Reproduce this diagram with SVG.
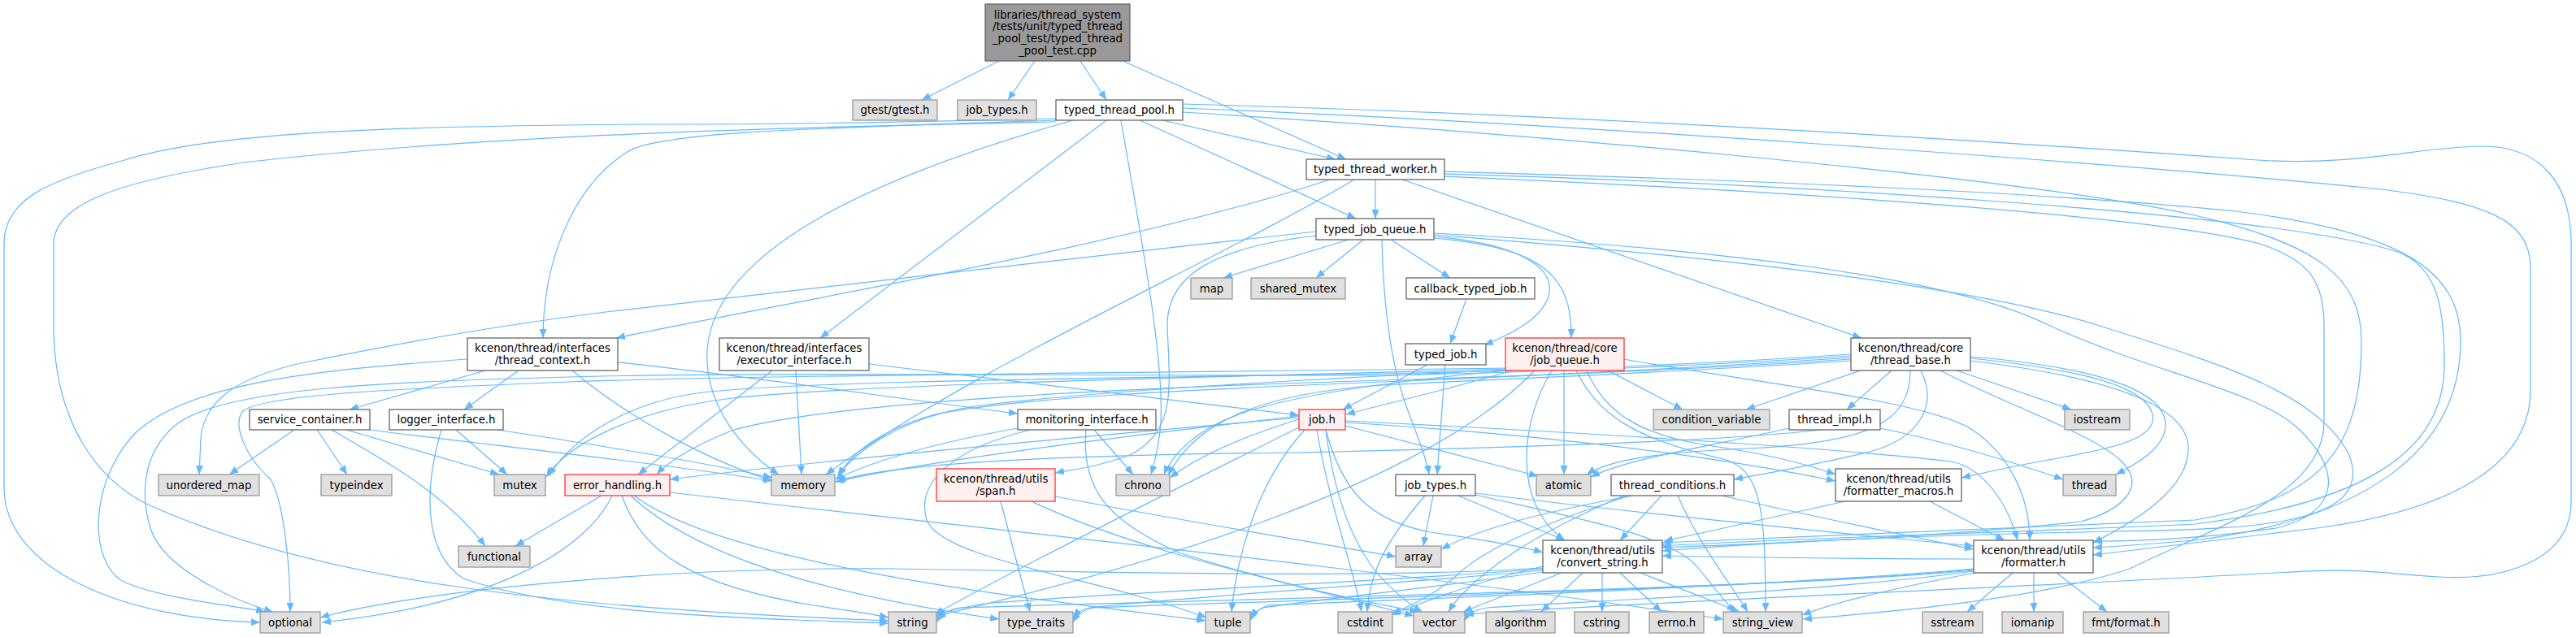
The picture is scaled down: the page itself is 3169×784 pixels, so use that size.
<svg xmlns="http://www.w3.org/2000/svg" width="3169" height="784" viewBox="0 0 3169 784">
<style>
.e{fill:none;stroke:#63b8ff;stroke-width:1.2}
.w rect{fill:#ffffff;stroke:#666666;stroke-width:1.3}
.g rect{fill:#e0e0e0;stroke:#999999;stroke-width:1.3}
.r rect{fill:#fff0f0;stroke:#ff3333;stroke-width:1.3}
.rt rect{fill:#999999;stroke:#666666;stroke-width:1.3}
text{font-family:"DejaVu Sans","Liberation Sans",sans-serif;font-size:13.3px;text-anchor:middle;fill:#000000}
</style>
<defs>
<marker id="a" viewBox="0 0 11 9" refX="11" refY="4.5" markerWidth="11" markerHeight="9" markerUnits="userSpaceOnUse" orient="auto"><path d="M0,0 L11,4.5 L0,9 z" fill="#63b8ff"/></marker>
</defs>
<rect width="3169" height="784" fill="#ffffff"/>
<g id="connectors">
<path class="e" marker-end="url(#a)" d="M1229,75 L1134,123"/>
<path class="e" marker-end="url(#a)" d="M1273,75 L1240,123"/>
<path class="e" marker-end="url(#a)" d="M1329,75 L1361,123"/>
<path class="e" marker-end="url(#a)" d="M1381,75 L1656,196"/>
<path class="e" marker-end="url(#a)" d="M1430,148 L1643,196"/>
<path class="e" marker-end="url(#a)" d="M1402,148 L1668,269"/>
<path class="e" marker-end="url(#a)" d="M1361,148 L1009,416"/>
<path class="e" marker-end="url(#a)" d="M1379,148 C1405,300 1432,440 1428,520 C1426,550 1420,570 1416,584"/>
<path class="e" marker-end="url(#a)" d="M1320,148 C1100,210 880,300 870,430 C866,500 915,555 958,584"/>
<path class="e" marker-end="url(#a)" d="M1299,148 C1000,158 820,162 775,185 C700,230 668,330 668,416"/>
<path class="e" marker-end="url(#a)" d="M1299,146 C1100,151 900,153 800,153 C450,155 250,165 150,198 C60,222 5,245 5,300 L5,600 C5,700 150,762 320,766"/>
<path class="e" marker-end="url(#a)" d="M1299,150 C1000,156 600,165 300,200 C150,222 66,250 66,300 L66,400 C66,520 120,590 180,620 C400,720 700,748 1093,764"/>
<path class="e" marker-end="url(#a)" d="M1455,128 C1900,140 2400,170 2777,197 C2900,205 2980,180 3053,180 C3130,180 3163,230 3163,300 L3163,617 C3163,690 3080,715 3000,710 C2920,705 2900,698 2800,705 C2500,722 2000,742 1802,756"/>
<path class="e" marker-end="url(#a)" d="M1455,133 C1900,150 2600,200 2930,233 C3060,250 3113,270 3113,330 L3113,480 C3113,580 3000,630 2850,650 C2700,668 2620,678 2575,683"/>
<path class="e" marker-end="url(#a)" d="M1455,138 C1900,165 2500,220 2700,265 C2850,300 2905,340 2905,420 C2905,560 2850,615 2700,640 C2450,650 2200,660 2045,668"/>
<path class="e" marker-end="url(#a)" d="M1692,221 L1692,269"/>
<path class="e" marker-end="url(#a)" d="M1636,221 C1400,300 950,375 758,416"/>
<path class="e" marker-end="url(#a)" d="M1666,221 C1500,320 1200,450 1016,584"/>
<path class="e" marker-end="url(#a)" d="M1725,221 L2290,416"/>
<path class="e" marker-end="url(#a)" d="M1777,211 C2100,220 2500,235 2750,260 C2950,285 3027,330 3027,420 C3027,560 2900,640 2700,665 C2640,670 2600,673 2575,674"/>
<path class="e" marker-end="url(#a)" d="M1777,214 C2200,226 2800,262 2950,310 C3000,330 3007,380 3007,450 C3007,560 2900,620 2700,645 C2500,655 2200,662 2045,672"/>
<path class="e" marker-end="url(#a)" d="M1777,217 C2200,235 2650,265 2780,300 C2840,320 2859,345 2859,400 L2859,520 C2859,610 2720,650 2620,700 C2500,740 2300,755 2218,762"/>
<path class="e" marker-end="url(#a)" d="M1659,295 L1505,342"/>
<path class="e" marker-end="url(#a)" d="M1677,295 L1619,342"/>
<path class="e" marker-end="url(#a)" d="M1711,295 L1784,342"/>
<path class="e" marker-end="url(#a)" d="M1700,295 C1702,380 1712,450 1730,500 C1745,540 1755,565 1758,584"/>
<path class="e" marker-end="url(#a)" d="M1764,291 C1870,300 1915,330 1905,365 C1895,395 1855,412 1826,425"/>
<path class="e" marker-end="url(#a)" d="M1764,293 C1900,305 1934,340 1933,416"/>
<path class="e" marker-end="url(#a)" d="M1619,285 C1300,320 950,360 745,384 C600,402 480,425 380,445 C280,465 250,500 247,540 L245,584"/>
<path class="e" marker-end="url(#a)" d="M1619,290 C1490,305 1436,340 1436,400 C1438,470 1450,530 1390,560 C1350,575 1320,578 1298,582"/>
<path class="e" marker-end="url(#a)" d="M1764,287 C2100,305 2400,340 2520,400 C2650,460 2780,480 2830,530 C2880,580 2880,630 2800,650 C2700,664 2620,666 2575,666"/>
<path class="e" marker-end="url(#a)" d="M1764,289 C2100,315 2420,350 2580,400 C2720,445 2850,480 2890,560 C2920,640 2800,652 2600,654 C2400,658 2200,665 2045,678"/>
<path class="e" marker-end="url(#a)" d="M1804,368 L1784,423"/>
<path class="e" marker-end="url(#a)" d="M1756,449 L1652,504"/>
<path class="e" marker-end="url(#a)" d="M1778,449 L1768,584"/>
<path class="e" marker-end="url(#a)" d="M597,456 L430,504"/>
<path class="e" marker-end="url(#a)" d="M638,456 L571,504"/>
<path class="e" marker-end="url(#a)" d="M760,446 C900,460 1100,490 1252,509"/>
<path class="e" marker-end="url(#a)" d="M704,456 C780,520 880,570 949,591"/>
<path class="e" marker-end="url(#a)" d="M575,442 C400,455 220,470 160,540 C110,600 110,690 150,715 C200,738 290,745 326,753"/>
<path class="e" marker-end="url(#a)" d="M362,529 L282,584"/>
<path class="e" marker-end="url(#a)" d="M390,529 L427,584"/>
<path class="e" marker-end="url(#a)" d="M408,529 C470,565 545,605 597,672"/>
<path class="e" marker-end="url(#a)" d="M426,529 L614,584"/>
<path class="e" marker-end="url(#a)" d="M455,529 C600,548 800,568 950,592"/>
<path class="e" marker-end="url(#a)" d="M561,529 L624,584"/>
<path class="e" marker-end="url(#a)" d="M612,529 C750,550 880,572 950,588"/>
<path class="e" marker-end="url(#a)" d="M543,529 C522,600 520,680 570,712 C700,758 950,762 1093,767"/>
<path class="e" marker-end="url(#a)" d="M979,456 L986,584"/>
<path class="e" marker-end="url(#a)" d="M950,456 L785,584"/>
<path class="e" marker-end="url(#a)" d="M1069,448 L1598,511"/>
<path class="e" marker-end="url(#a)" d="M1252,527 C1150,545 1080,565 1027,590"/>
<path class="e" marker-end="url(#a)" d="M1346,529 L1394,584"/>
<path class="e" marker-end="url(#a)" d="M1336,529 C1330,600 1360,640 1450,680 C1600,728 1720,748 1745,753"/>
<path class="e" marker-end="url(#a)" d="M1268,529 C1180,550 1125,590 1140,640 C1160,690 1350,710 1484,760"/>
<path class="e" marker-end="url(#a)" d="M1860,456 C1780,480 1700,498 1656,510"/>
<path class="e" marker-end="url(#a)" d="M1978,456 L2070,504"/>
<path class="e" marker-end="url(#a)" d="M1924,456 L1924,584"/>
<path class="e" marker-end="url(#a)" d="M1939,456 C1965,510 2010,540 2120,565 C2165,578 2172,620 2172,753"/>
<path class="e" marker-end="url(#a)" d="M1909,456 C1870,520 1860,620 1925,665"/>
<path class="e" marker-end="url(#a)" d="M1952,456 C1975,510 2020,535 2100,548 C2170,558 2220,570 2258,584"/>
<path class="e" marker-end="url(#a)" d="M1998,442 C2150,470 2350,490 2420,525 C2470,555 2497,610 2497,665"/>
<path class="e" marker-end="url(#a)" d="M1888,456 C1750,600 1400,700 1152,758"/>
<path class="e" marker-end="url(#a)" d="M1856,456 C1700,470 1560,490 1500,520 C1460,540 1440,565 1432,584"/>
<path class="e" marker-end="url(#a)" d="M1856,455 C1650,465 1350,480 1200,500 C1100,515 1050,560 1030,586"/>
<path class="e" marker-end="url(#a)" d="M1856,454 C1600,462 1100,470 900,490 C780,505 700,545 672,587"/>
<path class="e" marker-end="url(#a)" d="M1856,453 C1500,458 900,462 700,470 C500,478 330,485 300,505 C285,520 300,560 333,590 C350,620 357,700 357,753"/>
<path class="e" marker-end="url(#a)" d="M2289,456 L2148,504"/>
<path class="e" marker-end="url(#a)" d="M2327,456 L2272,504"/>
<path class="e" marker-end="url(#a)" d="M2350,456 C2350,520 2300,545 2150,552 C2050,556 1980,565 1952,584"/>
<path class="e" marker-end="url(#a)" d="M2363,456 C2385,500 2360,540 2300,556 C2220,575 2160,585 2133,590"/>
<path class="e" marker-end="url(#a)" d="M2407,456 L2548,504"/>
<path class="e" marker-end="url(#a)" d="M2424,439 C2580,452 2660,480 2664,520 C2666,550 2630,570 2603,584"/>
<path class="e" marker-end="url(#a)" d="M2424,441 C2560,455 2640,475 2648,510 C2655,540 2600,552 2520,566 C2470,575 2440,582 2413,588"/>
<path class="e" marker-end="url(#a)" d="M2424,444 C2600,465 2690,500 2692,550 C2694,600 2630,640 2575,668"/>
<path class="e" marker-end="url(#a)" d="M2387,456 C2460,495 2580,535 2612,570 C2640,600 2610,628 2560,642 C2400,660 2200,668 2045,674"/>
<path class="e" marker-end="url(#a)" d="M2277,440 C2100,452 1900,462 1700,470 C1450,480 1250,490 1150,510 C1080,530 1045,560 1032,586"/>
<path class="e" marker-end="url(#a)" d="M2277,436 C2100,448 1900,456 1700,460 C1300,466 950,470 850,485 C760,500 700,545 675,586"/>
<path class="e" marker-end="url(#a)" d="M2277,438 C2100,450 1900,458 1700,462 C1200,462 900,458 700,464 C450,470 280,480 220,520 C180,550 170,600 185,650 C200,700 290,740 336,753"/>
<path class="e" marker-end="url(#a)" d="M2277,442 C2100,454 1900,462 1700,468 C1300,480 1000,500 900,530 C850,550 820,570 808,584"/>
<path class="e" marker-end="url(#a)" d="M2277,444 C2100,456 1900,464 1700,474 C1550,484 1470,520 1437,585"/>
<path class="e" marker-end="url(#a)" d="M1655,520 C1900,535 2100,560 2258,592"/>
<path class="e" marker-end="url(#a)" d="M1655,518 C1900,530 2250,550 2400,568 C2440,575 2470,620 2482,665"/>
<path class="e" marker-end="url(#a)" d="M1655,524 L1892,586"/>
<path class="e" marker-end="url(#a)" d="M1631,529 C1650,600 1680,640 1760,655 C1830,665 1870,672 1898,680"/>
<path class="e" marker-end="url(#a)" d="M1631,529 C1640,600 1660,660 1690,700 C1710,725 1735,745 1750,753"/>
<path class="e" marker-end="url(#a)" d="M1598,514 C1300,540 1000,568 824,590"/>
<path class="e" marker-end="url(#a)" d="M1598,512 C1400,535 1150,565 1027,593"/>
<path class="e" marker-end="url(#a)" d="M1598,516 C1520,540 1470,565 1439,588"/>
<path class="e" marker-end="url(#a)" d="M1600,525 C1450,600 1250,700 1150,756"/>
<path class="e" marker-end="url(#a)" d="M1605,529 C1540,600 1520,700 1515,753"/>
<path class="e" marker-end="url(#a)" d="M1620,529 C1635,620 1665,700 1675,753"/>
<path class="e" marker-end="url(#a)" d="M740,610 L634,672"/>
<path class="e" marker-end="url(#a)" d="M753,610 C720,680 600,745 396,766"/>
<path class="e" marker-end="url(#a)" d="M765,610 C790,680 850,720 1000,745 C1050,752 1075,756 1093,760"/>
<path class="e" marker-end="url(#a)" d="M776,610 C850,680 1000,730 1229,762"/>
<path class="e" marker-end="url(#a)" d="M824,606 C1200,650 1700,700 2120,762"/>
<path class="e" marker-end="url(#a)" d="M780,610 C900,700 1300,740 1483,764"/>
<path class="e" marker-end="url(#a)" d="M1231,617 L1267,753"/>
<path class="e" marker-end="url(#a)" d="M1298,611 C1450,640 1600,665 1717,685"/>
<path class="e" marker-end="url(#a)" d="M1269,617 C1400,680 1600,720 1739,758"/>
<path class="e" marker-end="url(#a)" d="M1763,610 L1751,672"/>
<path class="e" marker-end="url(#a)" d="M1753,610 C1710,660 1685,700 1682,753"/>
<path class="e" marker-end="url(#a)" d="M1794,610 L1925,665"/>
<path class="e" marker-end="url(#a)" d="M1815,607 C2000,630 2300,660 2428,672"/>
<path class="e" marker-end="url(#a)" d="M1815,609 C1950,640 2060,660 2090,700 C2110,725 2125,745 2135,753"/>
<path class="e" marker-end="url(#a)" d="M2044,610 L1993,665"/>
<path class="e" marker-end="url(#a)" d="M2064,610 C2090,670 2130,720 2150,753"/>
<path class="e" marker-end="url(#a)" d="M2008,610 C1900,630 1820,650 1773,676"/>
<path class="e" marker-end="url(#a)" d="M2005,610 C1880,650 1820,680 1790,710 C1760,735 1730,748 1712,755"/>
<path class="e" marker-end="url(#a)" d="M1998,610 C1880,660 1830,700 1800,730 C1790,740 1785,748 1782,753"/>
<path class="e" marker-end="url(#a)" d="M2118,610 C2250,640 2350,660 2428,676"/>
<path class="e" marker-end="url(#a)" d="M2374,617 L2466,665"/>
<path class="e" marker-end="url(#a)" d="M2270,617 L2047,666"/>
<path class="e" marker-end="url(#a)" d="M2313,527 C2400,545 2480,570 2538,590"/>
<path class="e" marker-end="url(#a)" d="M2201,527 C2100,550 2000,565 1957,587"/>
<path class="e" marker-end="url(#a)" d="M2240,529 C2100,545 1800,552 1600,557 C1300,560 1100,570 1030,592"/>
<path class="e" marker-end="url(#a)" d="M1947,705 L1896,753"/>
<path class="e" marker-end="url(#a)" d="M1971,705 L1971,753"/>
<path class="e" marker-end="url(#a)" d="M1993,705 L2044,753"/>
<path class="e" marker-end="url(#a)" d="M2018,705 L2140,753"/>
<path class="e" marker-end="url(#a)" d="M1921,705 L1800,753"/>
<path class="e" marker-end="url(#a)" d="M1898,697 C1800,720 1740,745 1712,757"/>
<path class="e" marker-end="url(#a)" d="M1898,700 C1700,716 1400,728 1220,742 C1190,746 1165,752 1152,758"/>
<path class="e" marker-end="url(#a)" d="M1898,702 C1700,720 1450,735 1340,748 C1330,750 1325,754 1320,760"/>
<path class="e" marker-end="url(#a)" d="M1898,704 C1750,725 1600,740 1555,748 C1548,750 1542,755 1538,760"/>
<path class="e" marker-end="url(#a)" d="M1898,699 C1700,712 1400,705 1100,700 C800,697 500,730 394,760"/>
<path class="e" marker-end="url(#a)" d="M2476,705 L2420,753"/>
<path class="e" marker-end="url(#a)" d="M2502,705 L2502,753"/>
<path class="e" marker-end="url(#a)" d="M2530,705 L2592,753"/>
<path class="e" marker-end="url(#a)" d="M2428,688 C2300,688 2150,686 2045,684"/>
<path class="e" marker-end="url(#a)" d="M2430,705 C2350,720 2260,740 2217,757"/>
<path class="e" marker-end="url(#a)" d="M2428,700 C2200,720 1800,735 1560,745 C1550,748 1543,753 1538,764"/>
<path class="e" marker-end="url(#a)" d="M2428,701 C2200,722 1700,735 1345,748 C1335,750 1326,755 1320,766"/>
<path class="e" marker-end="url(#a)" d="M2428,702 C2200,724 1600,735 1180,748 C1168,750 1158,756 1152,766"/>
<path class="e" marker-end="url(#a)" d="M2428,703 C2250,728 1950,740 1830,748 C1815,750 1806,756 1802,764"/>
</g>
<g id="node-root" class="rt"><rect x="1212" y="5" width="178" height="70"/><text x="1301" y="22.7">libraries/thread_system</text><text x="1301" y="37.3">/tests/unit/typed_thread</text><text x="1301" y="51.9">_pool_test/typed_thread</text><text x="1301" y="66.5">_pool_test.cpp</text></g>
<g id="node-gtest" class="g"><rect x="1049" y="123" width="104" height="25"/><text x="1101" y="140.1">gtest/gtest.h</text></g>
<g id="node-job-types-top" class="g"><rect x="1178" y="123" width="97" height="25"/><text x="1226.5" y="140.1">job_types.h</text></g>
<g id="node-typed-thread-pool" class="w"><rect x="1299" y="123" width="156" height="25"/><text x="1377" y="140.1">typed_thread_pool.h</text></g>
<g id="node-typed-thread-worker" class="w"><rect x="1607" y="196" width="170" height="25"/><text x="1692" y="213.1">typed_thread_worker.h</text></g>
<g id="node-typed-job-queue" class="w"><rect x="1619" y="269" width="145" height="26"/><text x="1691.5" y="286.6">typed_job_queue.h</text></g>
<g id="node-map" class="g"><rect x="1465" y="342" width="51" height="26"/><text x="1490.5" y="359.6">map</text></g>
<g id="node-shared-mutex" class="g"><rect x="1539" y="342" width="116" height="26"/><text x="1597" y="359.6">shared_mutex</text></g>
<g id="node-callback-typed-job" class="w"><rect x="1730" y="342" width="158" height="26"/><text x="1809" y="359.6">callback_typed_job.h</text></g>
<g id="node-thread-context" class="w"><rect x="575" y="416" width="185" height="40"/><text x="667.5" y="433.3">kcenon/thread/interfaces</text><text x="667.5" y="447.9">/thread_context.h</text></g>
<g id="node-executor-interface" class="w"><rect x="885" y="416" width="184" height="40"/><text x="977" y="433.3">kcenon/thread/interfaces</text><text x="977" y="447.9">/executor_interface.h</text></g>
<g id="node-typed-job" class="w"><rect x="1729" y="423" width="99" height="26"/><text x="1778.5" y="440.6">typed_job.h</text></g>
<g id="node-job-queue" class="r"><rect x="1852" y="416" width="146" height="40"/><text x="1925" y="433.3">kcenon/thread/core</text><text x="1925" y="447.9">/job_queue.h</text></g>
<g id="node-thread-base" class="w"><rect x="2277" y="416" width="147" height="40"/><text x="2350.5" y="433.3">kcenon/thread/core</text><text x="2350.5" y="447.9">/thread_base.h</text></g>
<g id="node-service-container" class="w"><rect x="307" y="504" width="148" height="25"/><text x="381" y="521.1">service_container.h</text></g>
<g id="node-logger-interface" class="w"><rect x="479" y="504" width="140" height="25"/><text x="549" y="521.1">logger_interface.h</text></g>
<g id="node-monitoring-interface" class="w"><rect x="1252" y="504" width="170" height="25"/><text x="1337" y="521.1">monitoring_interface.h</text></g>
<g id="node-job" class="r"><rect x="1598" y="504" width="57" height="25"/><text x="1626.5" y="521.1">job.h</text></g>
<g id="node-condition-variable" class="g"><rect x="2034" y="504" width="143" height="25"/><text x="2105.5" y="521.1">condition_variable</text></g>
<g id="node-thread-impl" class="w"><rect x="2201" y="504" width="112" height="25"/><text x="2257" y="521.1">thread_impl.h</text></g>
<g id="node-iostream" class="g"><rect x="2540" y="504" width="80" height="25"/><text x="2580" y="521.1">iostream</text></g>
<g id="node-unordered-map" class="g"><rect x="195" y="584" width="124" height="26"/><text x="257" y="601.6">unordered_map</text></g>
<g id="node-typeindex" class="g"><rect x="395" y="584" width="87" height="26"/><text x="438.5" y="601.6">typeindex</text></g>
<g id="node-mutex" class="g"><rect x="608" y="584" width="63" height="26"/><text x="639.5" y="601.6">mutex</text></g>
<g id="node-error-handling" class="r"><rect x="695" y="584" width="129" height="26"/><text x="759.5" y="601.6">error_handling.h</text></g>
<g id="node-memory" class="g"><rect x="949" y="584" width="78" height="26"/><text x="988" y="601.6">memory</text></g>
<g id="node-span" class="r"><rect x="1152" y="577" width="146" height="40"/><text x="1225" y="594.3">kcenon/thread/utils</text><text x="1225" y="608.9">/span.h</text></g>
<g id="node-chrono" class="g"><rect x="1373" y="584" width="66" height="26"/><text x="1406" y="601.6">chrono</text></g>
<g id="node-job-types" class="w"><rect x="1717" y="584" width="98" height="26"/><text x="1766" y="601.6">job_types.h</text></g>
<g id="node-atomic" class="g"><rect x="1890" y="584" width="67" height="26"/><text x="1923.5" y="601.6">atomic</text></g>
<g id="node-thread-conditions" class="w"><rect x="1982" y="584" width="151" height="26"/><text x="2057.5" y="601.6">thread_conditions.h</text></g>
<g id="node-formatter-macros" class="w"><rect x="2258" y="577" width="155" height="40"/><text x="2335.5" y="594.3">kcenon/thread/utils</text><text x="2335.5" y="608.9">/formatter_macros.h</text></g>
<g id="node-thread" class="g"><rect x="2538" y="584" width="65" height="26"/><text x="2570.5" y="601.6">thread</text></g>
<g id="node-functional" class="g"><rect x="564" y="672" width="88" height="26"/><text x="608" y="689.6">functional</text></g>
<g id="node-array" class="g"><rect x="1717" y="672" width="56" height="26"/><text x="1745" y="689.6">array</text></g>
<g id="node-convert-string" class="w"><rect x="1898" y="665" width="147" height="40"/><text x="1971.5" y="682.3">kcenon/thread/utils</text><text x="1971.5" y="696.9">/convert_string.h</text></g>
<g id="node-formatter" class="w"><rect x="2428" y="665" width="147" height="40"/><text x="2501.5" y="682.3">kcenon/thread/utils</text><text x="2501.5" y="696.9">/formatter.h</text></g>
<g id="node-optional" class="g"><rect x="320" y="753" width="74" height="26"/><text x="357" y="770.6">optional</text></g>
<g id="node-string" class="g"><rect x="1093" y="753" width="59" height="26"/><text x="1122.5" y="770.6">string</text></g>
<g id="node-type-traits" class="g"><rect x="1229" y="753" width="91" height="26"/><text x="1274.5" y="770.6">type_traits</text></g>
<g id="node-tuple" class="g"><rect x="1483" y="753" width="55" height="26"/><text x="1510.5" y="770.6">tuple</text></g>
<g id="node-cstdint" class="g"><rect x="1646" y="753" width="67" height="26"/><text x="1679.5" y="770.6">cstdint</text></g>
<g id="node-vector" class="g"><rect x="1739" y="753" width="63" height="26"/><text x="1770.5" y="770.6">vector</text></g>
<g id="node-algorithm" class="g"><rect x="1828" y="753" width="85" height="26"/><text x="1870.5" y="770.6">algorithm</text></g>
<g id="node-cstring" class="g"><rect x="1937" y="753" width="67" height="26"/><text x="1970.5" y="770.6">cstring</text></g>
<g id="node-errno" class="g"><rect x="2029" y="753" width="67" height="26"/><text x="2062.5" y="770.6">errno.h</text></g>
<g id="node-string-view" class="g"><rect x="2120" y="753" width="97" height="26"/><text x="2168.5" y="770.6">string_view</text></g>
<g id="node-sstream" class="g"><rect x="2365" y="753" width="74" height="26"/><text x="2402" y="770.6">sstream</text></g>
<g id="node-iomanip" class="g"><rect x="2463" y="753" width="75" height="26"/><text x="2500.5" y="770.6">iomanip</text></g>
<g id="node-fmt-format" class="g"><rect x="2563" y="753" width="105" height="26"/><text x="2615.5" y="770.6">fmt/format.h</text></g>
</svg>
